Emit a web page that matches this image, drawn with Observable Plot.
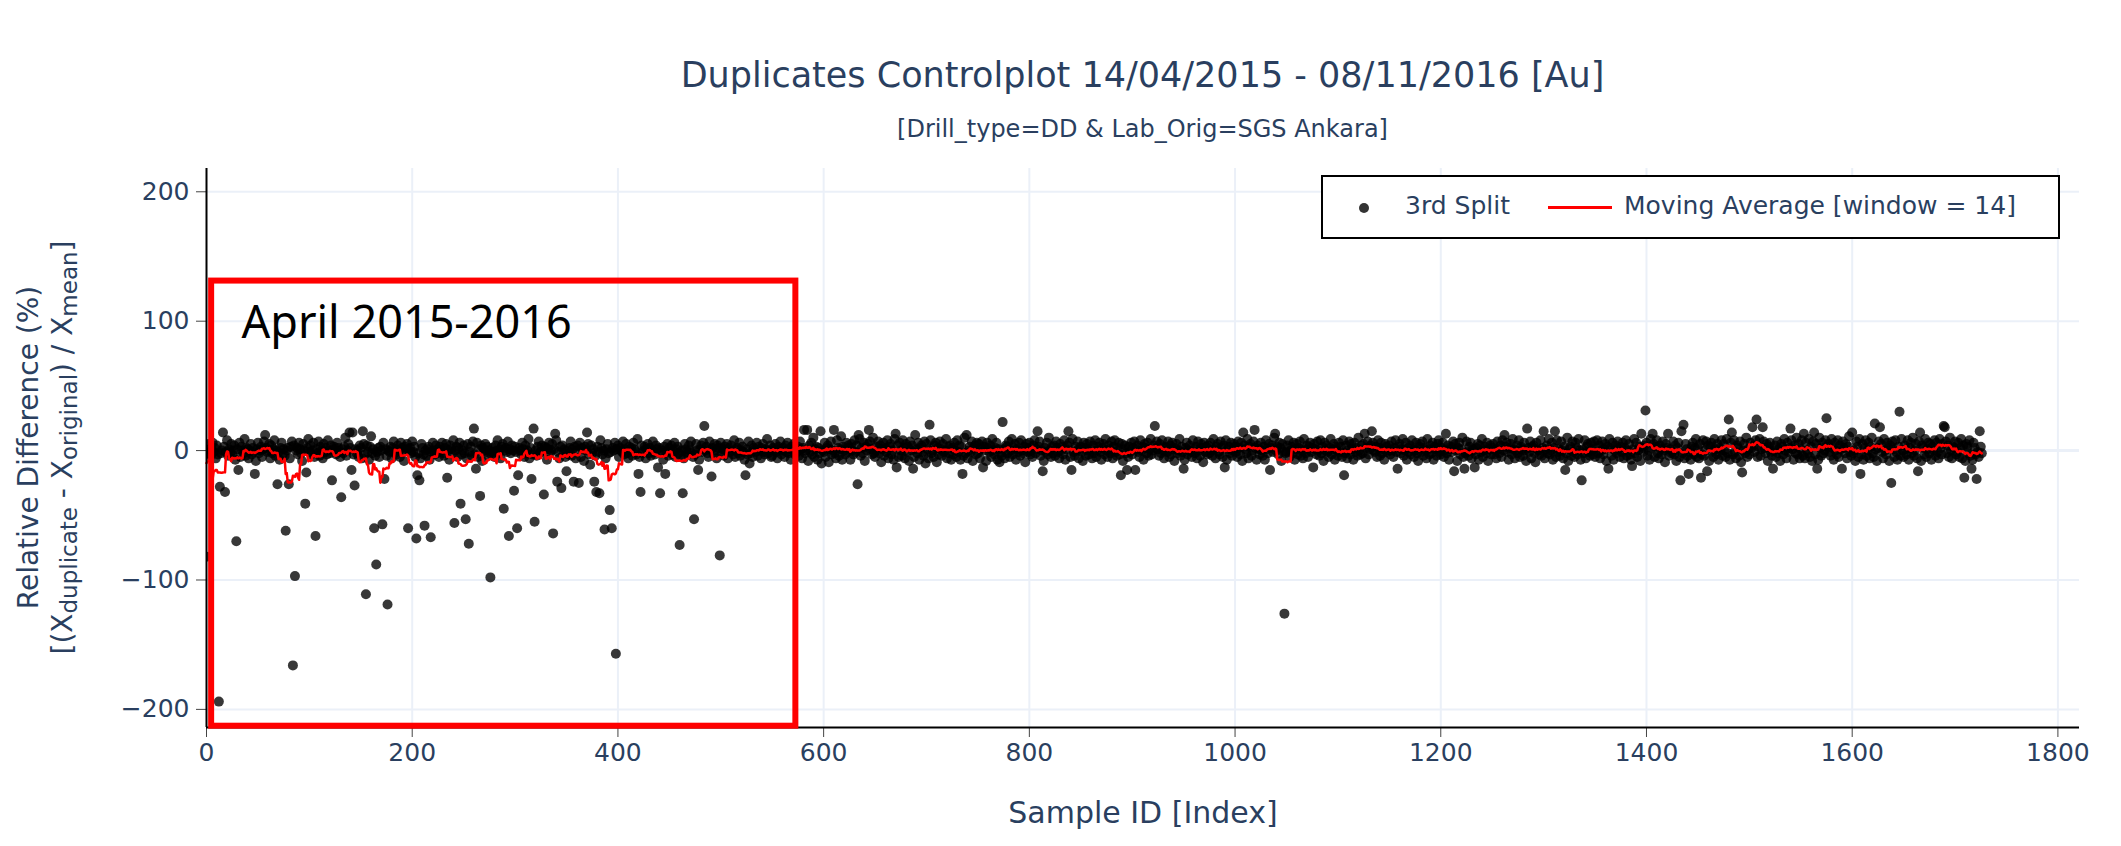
<!DOCTYPE html>
<html>
<head>
<meta charset="utf-8">
<script src="https://cdn.jsdelivr.net/npm/d3@7"></script>
<script src="https://cdn.jsdelivr.net/npm/@observablehq/plot@0.6"></script>
<style>
  html, body { margin: 0; padding: 0; background: white; }
  #wrap { position: relative; width: 2121px; height: 846px; overflow: hidden; font-family: "DejaVu Sans", Verdana, sans-serif; color: #2a3f5f; }
  #title { position: absolute; left: 206px; width: 1873px; top: 51px; text-align: center; font-size: 35px; line-height: 48px; }
  #subtitle { position: absolute; left: 206px; width: 1873px; top: 113px; text-align: center; font-size: 24px; line-height: 32px; }
  #chart { position: absolute; left: 0; top: 150px; }
  #legend { position: absolute; left: 1321px; top: 175px; width: 735px; height: 60px; border: 2px solid #000; background: white; font-size: 25px; }
  #legend .dot { position: absolute; left: 36px; top: 26px; width: 10px; height: 10px; border-radius: 50%; background: #333; }
  #legend .t1 { position: absolute; left: 82px; top: 12px; line-height: 34px; }
  #legend .ln { position: absolute; left: 225px; top: 29px; width: 64px; height: 3px; background: red; }
  #legend .t2 { position: absolute; left: 301px; top: 12px; line-height: 34px; }
</style>
</head>
<body>
<div id="wrap">
  <div id="title">Duplicates Controlplot 14/04/2015 - 08/11/2016 [Au]</div>
  <div id="subtitle">[Drill_type=DD &amp; Lab_Orig=SGS Ankara]</div>
  <div id="chart"></div>
  <div id="legend"><span class="dot"></span><span class="t1">3rd Split</span><span class="ln"></span><span class="t2">Moving Average [window = 14]</span></div>
</div>
<script>
// ---- tick labels ----
const xTicks = [0, 200, 400, 600, 800, 1000, 1200, 1400, 1600, 1800];
const yTicks = [-200, -100, 0, 100, 200];

// ---- band values (estimated), samples 0-574 ----
const band1 = [
3,-2,5,1,-4,0,6,-1,2,-6,4,-3,1,7,-2,0,-5,3,2,-1,8,-4,1,-2,5,
-3,0,4,-7,2,1,-1,6,-5,3,0,-2,9,-4,2,1,-6,0,5,-3,2,-1,4,-8,1,
6,-2,0,3,-5,1,7,-3,2,-1,0,5,-6,4,-2,1,8,-4,0,3,-1,-7,2,6,-3,
1,-4,5,0,2,-2,-6,3,7,-1,4,-5,0,2,-3,6,1,-2,-8,5,0,3,-4,2,9,
-1,4,-3,0,6,-5,2,1,-2,7,-4,3,0,-6,5,-1,2,-3,8,0,-2,4,-7,1,3,
0,-3,6,2,-1,-5,4,1,-2,3,10,-4,0,5,-6,2,-1,3,-3,7,1,-2,0,-5,4,
2,-6,1,5,-3,0,4,-1,-7,3,6,-2,1,0,-4,8,-1,2,-5,3,0,-2,6,-3,1,
-4,5,0,-1,3,-6,2,7,-2,1,-3,4,0,-5,6,2,-1,-8,3,1,5,-4,0,2,-2,
7,-1,3,-5,0,4,-2,1,-6,5,2,-3,9,0,-4,1,3,-7,2,-1,6,0,-3,4,-2,
1,-5,3,0,6,-2,-4,2,5,-1,0,-7,4,1,-3,8,-2,0,3,-5,2,6,-1,-3,0,
4,-2,1,-6,5,0,-1,3,-4,7,2,-3,0,6,-5,1,-2,4,-8,2,0,5,-1,3,-4,
0,6,-3,2,-1,-5,4,0,8,-2,1,-6,3,5,-4,0,2,-1,7,-3,1,-2,4,0,-7,
3,-1,5,-4,2,0,-3,6,1,-5,4,-2,0,9,-6,2,1,-3,5,-1,0,-4,3,7,-2,
-1,4,0,-5,3,2,-7,1,6,-2,0,5,-3,1,-4,8,2,-1,-6,3,0,4,-2,1,-5,
5,0,-3,2,7,-4,1,-1,3,-6,0,4,-2,6,-5,2,1,-8,3,0,-1,5,-3,2,4,
-2,1,6,-4,0,3,-1,-5,8,2,-3,0,4,-6,1,5,-2,3,-1,-7,2,0,6,-3,1,
4,-5,2,0,-1,7,-3,1,5,-2,-6,3,0,2,-4,6,1,-1,-3,9,0,-5,2,4,-2,
0,3,-6,1,5,-2,2,-4,0,7,-1,-3,4,1,-5,2,6,-2,0,-7,3,1,-1,5,-4,
2,-1,4,-3,0,6,-5,1,3,-2,8,-4,0,2,-6,5,1,-1,-3,4,0,7,-2,-5,1,
-3,5,0,2,-7,1,4,-1,6,-4,0,3,-2,-5,7,1,-1,2,-3,5,0,-6,4,2,-1,
6,-2,1,-4,3,0,5,-6,2,-1,4,0,-3,8,-5,1,2,-2,6,-4,0,3,-1,-7,2,
1,-3,7,0,-2,4,-5,2,1,-1,6,-4,3,0,-6,2,5,-1,-3,1,9,-2,0,4,-5,
-4,2,0,5,-1,-6,3,1,7,-3,0,2,-5,4,-1,6,-2,1,-7,3,0,5,-3,2,-1
];

// ---- band values (estimated), samples 575-1149 ----
const band2 = [
3,-4,7,1,-6,2,9,-2,0,5,-8,4,-1,6,-3,10,-5,1,3,-7,2,-2,8,-4,0,
-1,6,-5,2,4,-9,1,7,-3,0,5,-2,-6,8,2,-4,1,11,-7,3,0,-3,6,-1,4,
2,-7,5,0,-3,8,-1,4,-6,1,9,-4,2,-2,6,-8,3,0,5,-5,7,1,-3,10,-2,
-5,3,0,7,-2,4,-9,1,6,-4,2,-1,8,-6,3,5,-3,0,-7,9,1,-2,4,-5,6,
0,-4,8,2,-6,5,-1,3,-8,7,0,4,-3,-5,10,1,-2,6,-7,2,4,-1,-4,7,-3,
5,1,-6,3,8,-2,0,-5,4,6,-9,2,-3,7,1,-4,5,-1,0,9,-6,3,-2,4,-7,
2,-3,6,0,-5,8,-1,4,-7,3,1,-4,10,-2,5,-6,0,3,-1,7,-8,2,4,-3,6,
-2,5,-6,1,7,-4,3,0,-8,6,2,-1,4,-5,9,0,-3,2,6,-7,1,5,-2,-4,8,
1,-6,4,3,-2,7,-5,0,9,-3,2,5,-7,1,-1,6,-4,8,0,-2,3,-9,5,2,-1,
6,-3,0,-5,4,8,-2,1,-6,3,7,-4,0,5,-8,2,-1,6,-3,10,0,-5,3,-2,4,
-4,7,2,-1,-6,5,0,3,-3,8,-7,1,4,-2,6,-5,2,9,-1,-4,3,0,7,-6,1,
3,-1,-8,6,2,-4,5,0,-3,7,1,-6,4,-2,8,-5,0,3,6,-1,-7,2,5,-3,9,
0,-5,4,1,-2,7,-6,3,8,-1,-4,2,6,-3,0,5,-8,1,4,-2,10,-5,3,-1,6,
-3,2,7,-6,1,4,-1,-5,8,0,3,-7,5,2,-2,6,-4,1,9,-3,0,4,-6,2,7,
1,-4,5,-2,8,0,-6,3,2,-1,7,-5,4,-3,6,1,-8,2,5,-2,0,9,-4,3,-1,
5,-7,2,6,-3,0,4,-1,-5,8,1,-2,3,-6,7,0,-4,5,2,-9,6,-1,3,-3,4,
-2,6,0,-4,9,1,-6,3,5,-1,-3,7,2,-5,4,0,8,-7,1,3,-2,6,-4,0,5,
3,-1,-5,7,2,-3,6,-8,0,4,1,-2,9,-6,3,5,-4,0,7,-1,2,-7,4,1,-3,
6,0,-4,3,-7,8,1,-2,5,-5,2,4,-1,10,-6,0,3,-3,6,2,-8,5,-1,4,-2,
-1,4,8,-5,0,3,-2,6,-7,1,5,-3,2,7,-4,0,-6,9,1,-2,4,-5,3,6,-1,
2,-6,5,1,-3,7,0,-4,8,-2,3,-8,6,0,4,-1,-5,2,9,-3,1,5,-7,3,0,
-4,6,-1,3,-5,8,2,-2,4,-6,0,7,-3,5,1,-7,6,-1,2,-4,10,0,-3,4,-2,
5,-2,-6,2,7,-3,1,4,-8,6,0,-1,3,-5,8,2,-4,6,-2,1,-7,5,3,-1,0
];

// ---- band values (estimated), samples 1150-1726 ----
const band3 = [
4,-3,7,0,-5,2,8,-1,-6,3,5,-2,1,9,-4,0,6,-7,2,-1,4,-3,8,1,-5,
0,6,-2,-8,3,5,-1,7,-4,2,0,-6,9,1,-3,4,-2,6,-7,3,1,-4,5,8,-1,
-3,2,6,-5,0,9,-2,4,-7,1,3,-1,7,-4,5,0,-8,2,6,-3,1,10,-5,2,-2,
7,-1,-4,3,6,-6,1,0,8,-3,2,5,-7,4,-1,9,-5,0,3,-2,6,-8,1,4,-3,
2,5,-3,0,-6,7,1,-2,4,-5,8,0,-4,3,6,-1,-7,2,5,-3,9,1,-6,0,4,
-2,8,-5,3,1,-4,6,0,-8,5,2,-1,7,-6,3,4,-2,-9,6,1,0,-3,8,-4,2,
5,-6,1,4,-2,9,-3,0,6,-7,2,3,-5,8,-1,1,-4,7,0,-6,3,5,-2,10,-8,
1,3,-4,7,-1,-5,6,2,-3,9,0,-7,4,1,-2,8,-6,3,5,-1,-4,6,0,-3,7,
-5,2,8,-2,4,-6,0,7,-3,1,5,-8,3,-1,9,2,-4,6,-7,0,4,-2,7,1,-5,
3,-1,6,-6,2,8,-4,0,5,-3,-7,4,1,9,-2,6,-5,0,3,-8,7,2,-1,4,-3,
6,-4,0,-7,9,2,-1,5,-5,3,8,-2,-6,4,1,-3,7,0,-9,5,2,6,-4,1,-2,
-1,7,-3,4,-8,2,6,-5,0,10,-2,3,-6,5,1,-4,8,-1,-7,3,6,-3,2,9,-5,
2,-6,5,1,-3,8,-4,0,7,-2,4,-8,3,6,-1,-5,9,1,-3,5,-7,2,0,8,-4,
5,0,-5,9,-2,3,-7,6,1,-3,8,-1,-6,4,2,-4,7,-9,3,0,5,-2,10,-5,1,
-3,6,2,-7,4,-1,8,0,-5,3,9,-4,1,-6,7,2,-2,5,-8,3,6,-1,-4,11,0,
4,-5,7,-2,1,-8,5,3,-3,9,0,-6,6,-1,2,-4,8,1,-7,4,-2,10,-3,5,-6,
1,8,-4,2,-6,6,0,-2,9,-5,3,-8,7,1,-3,5,-1,-7,10,2,-4,6,-2,0,8,
-6,3,5,-1,-4,9,2,-7,6,0,-3,8,-5,4,1,-9,7,2,-2,5,-6,3,11,-1,-4,
6,-2,0,-8,7,3,-5,9,1,-3,5,-7,2,8,-4,0,6,-6,3,10,-2,-5,4,1,-8,
2,7,-4,5,-1,-6,9,0,-3,6,2,-8,4,-2,7,1,-5,8,-1,-7,3,5,-4,9,0,
-5,4,1,-3,8,-7,2,6,-2,10,-4,0,5,-6,3,7,-1,-8,4,2,-3,9,-5,1,6,
-2,5,-7,3,0,8,-4,6,-1,-6,9,2,-3,5,-8,1,7,-2,4,-5,10,0,-6,3,2,
7,-3,-1,6,-5,2,9,-6,4,0,-8,5,3,-2,8,-4,1,-7,6,2,-3,11,-1,-5,4,
3,-2
];

// ---- isolated points: [sample index, relative difference %] ----
const outliers = [
[0,-82],[12,-194],[13,-28],[16,14],[18,-32],[29,-70],[31,-15],[47,-18],[57,12],[69,-26],
[77,-62],[80,-26],[84,-166],[86,-97],[96,-41],[97,-17],[106,-66],[122,-23],[131,-36],[139,14],
[141,-15],[142,14],[144,-27],[152,15],[155,-111],[160,11],[163,-60],[165,-88],[171,-57],[173,-22],
[176,-119],[196,-60],[204,-68],[205,-19],[207,-23],[212,-58],[218,-67],[234,-21],[241,-56],[247,-41],
[252,-53],[255,-72],[260,17],[262,-14],[266,-35],[276,-98],[289,-45],[294,-66],[299,-31],[302,-60],
[303,-19],[316,-22],[318,17],[319,-55],[328,-34],[337,-64],[339,13],[341,-24],[345,-29],[350,-16],
[357,-24],[362,-25],[370,14],[373,-11],[377,-24],[379,-32],[382,-33],[387,-61],[392,-46],[394,-60],
[398,-157],[420,-18],[422,-32],[439,-13],[441,-33],[446,-18],[460,-73],[463,-33],[474,-53],[478,-15],
[484,19],[491,-20],[499,-81],[524,-19],[528,-10],
[581,16],[584,16],[597,15],[598,-10],[610,16],[633,-26],[634,12],[644,16],[670,13],[671,-13],
[687,-14],[689,12],[699,-10],[703,20],[735,-18],[739,12],[755,-13],[771,-9],[774,22],[808,15],
[813,-16],[838,15],[841,-15],[889,-19],[895,-15],[903,-15],[922,19],[950,-14],[990,-13],[1008,14],
[1019,16],[1034,-15],[1039,13],[1048,-126],[1076,-13],[1106,-19],[1126,13],[1133,15],[1158,-14],[1205,13],
[1213,-16],[1223,-14],[1233,-13],[1262,12],[1284,17],[1300,15],[1311,15],[1321,-15],[1337,-23],[1363,-14],
[1386,-12],[1395,13],[1399,31],[1406,13],[1421,13],[1433,-23],[1434,15],[1436,20],[1441,-18],[1453,-21],
[1459,-16],[1480,24],[1483,14],[1493,-17],[1503,18],[1507,24],[1513,18],[1523,-14],[1540,17],[1553,13],
[1563,14],[1566,-14],[1575,25],[1590,-14],[1600,14],[1608,-18],[1622,21],[1627,18],[1638,-25],[1646,30],
[1664,-16],[1666,14],[1689,19],[1690,18],[1709,-21],[1716,-14],[1721,-22],[1724,15]
];

// ---- annotation (highlight box + label), in data units ----
const highlightBox = [{x1: 5, x2: 573, y1: -213, y2: 131}];
const highlightLabel = [{x: 34, y: 98, text: "April 2015-2016"}];

// ---- build table ----
const values = band1.concat(band2, band3);
for (const [i, v] of outliers) values[i] = v;
const data = values.map((y, i) => ({x: i, y}));

const xDomain = [0, 1821];
const yDomain = [-214, 218];
const gridColor = "#EBF0F8";
const fmt = d3.format("d");

const chart = Plot.plot({
  width: 2121,
  height: 696,
  marginTop: 18,
  marginBottom: 119,
  marginLeft: 206,
  marginRight: 42,
  style: {fontFamily: "'DejaVu Sans', Verdana, sans-serif", fontSize: "25px", color: "#2a3f5f", background: "white", overflow: "visible"},
  x: {domain: xDomain, label: null},
  y: {domain: yDomain, label: null},
  marks: [
    Plot.gridX(xTicks.filter(d => d > 0), {stroke: gridColor, strokeOpacity: 1, strokeWidth: 2}),
    Plot.gridY(yTicks, {stroke: gridColor, strokeOpacity: 1, strokeWidth: 2}),
    Plot.ruleY([0], {stroke: gridColor, strokeOpacity: 1, strokeWidth: 3}),
    Plot.dot(data, {x: "x", y: "y", r: 5, fill: "black", fillOpacity: 0.78, stroke: "none", clip: true}),
    Plot.lineY(data, Plot.windowY({k: 14, anchor: "middle"}, {x: "x", y: "y", stroke: "red", strokeWidth: 2.5})),
    Plot.axisX({ticks: xTicks, tickFormat: fmt, tickSize: 10, tickPadding: 6, stroke: "#444", fill: "#2a3f5f", label: null}),
    Plot.axisY({ticks: yTicks, tickFormat: fmt, tickSize: 10, tickPadding: 7, stroke: "#444", fill: "#2a3f5f", label: null}),
    Plot.ruleX([xDomain[0]], {stroke: "black", strokeWidth: 2}),
    Plot.ruleY([yDomain[0]], {stroke: "black", strokeWidth: 2}),
    Plot.rect(highlightBox, {x1: "x1", x2: "x2", y1: "y1", y2: "y2", fill: "none", stroke: "#ff0000", strokeWidth: 6}),
    Plot.text(highlightLabel, {x: "x", y: "y", text: "text", textAnchor: "start", fontSize: 45, fontFamily: "'Noto Sans', sans-serif", fill: "black", lineAnchor: "middle"}),
    Plot.text(["Sample ID [Index]"], {frameAnchor: "bottom", dy: 86, fontSize: 30, fill: "#2a3f5f", lineAnchor: "middle"})
  ]
});
document.getElementById("chart").appendChild(chart);

// ---- y axis title with subscripts ----
const svg = d3.select(chart);
const cy = 18 + (696 - 18 - 119) / 2;
const yt = svg.append("g").attr("fill", "#2a3f5f").attr("font-family", "'DejaVu Sans', Verdana, sans-serif").attr("font-size", 28).attr("text-anchor", "middle");
yt.append("text").attr("transform", `translate(28,${cy}) rotate(-90)`).attr("dy", "0.35em").text("Relative Difference (%)");
const t2 = yt.append("text").attr("transform", `translate(62,${cy}) rotate(-90)`).attr("dy", "0.35em");
const parts = [["[(X", false], ["duplicate", true], [" - X", false], ["original", true], [") / X", false], ["mean", true], ["]", false]];
for (const [s, sub] of parts) {
  const ts = t2.append("tspan").text(s);
  if (sub) ts.attr("font-size", 23).attr("baseline-shift", "-22%");
  else ts.attr("font-size", 28);
}
</script>
</body>
</html>
